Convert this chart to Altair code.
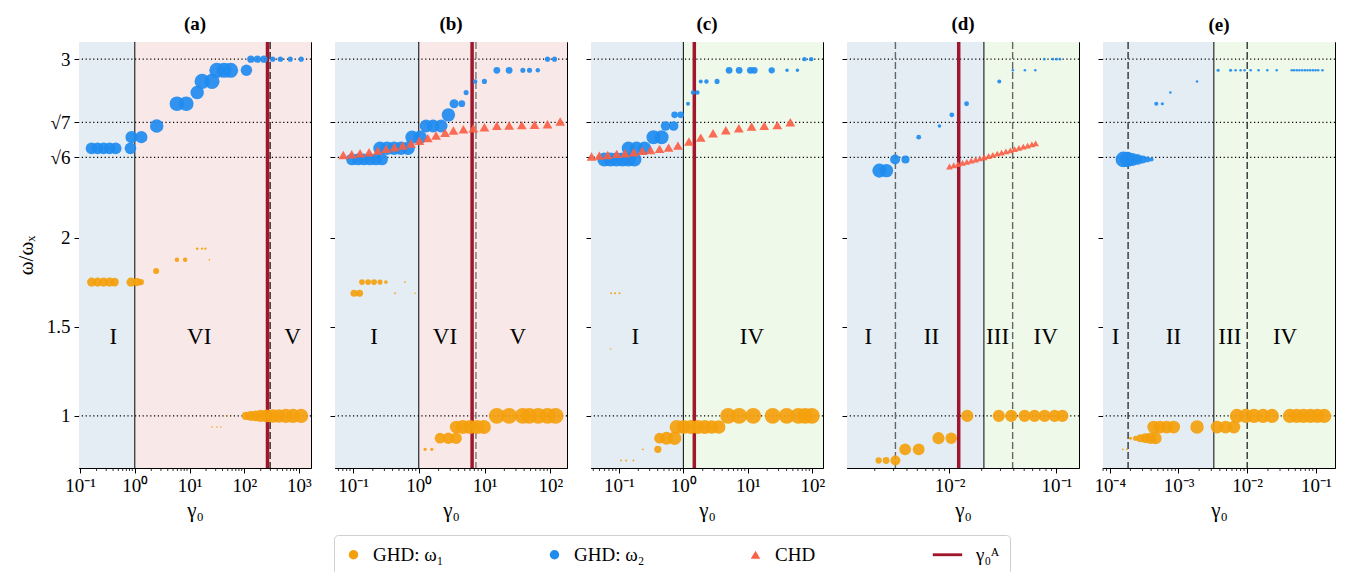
import math
import altair as alt
import pandas as pd

FONT = "Liberation Serif"
W, H = 232, 426
Y_DOMAIN = [0.708, 3.096]
Y_TICKS = [1.0, 1.5, 2.0, math.sqrt(6), math.sqrt(7), 3.0]
Y_TICK_LABELS = ["1", "1.5", "2", "√6", "√7", "3"]
H_LINES = [1.0, math.sqrt(6), math.sqrt(7), 3.0]
REGION_LABEL_Y = 1.44

SERIES = ["GHD: ω₁", "GHD: ω₂", "CHD", "γ₀ᴬ"]
COLORS = ["#f4a00c", "#1f8bef", "#fb6045", "#a0172d"]
SHAPES = ["circle", "circle", "triangle-up", "M-5,-0.3H1.2V0.3H-5Z"]
BLUE_BG, PINK_BG, GREEN_BG = "#e4edf4", "#f9e8e8", "#eff9e9"
SUPS = ["⁻⁵", "⁻⁴", "⁻³", "⁻²", "⁻¹", "⁰", "¹", "²", "³", "⁴"]

# ---------------- panel (a) ----------------
a_dom_log = [-1.02, 3.22]
a_w1_log = [-0.79, -0.68, -0.57, -0.46, -0.37, -0.07, 0.04, 0.11, 0.39, 0.77, 0.92, 1.14, 1.23, 1.29, 1.36,
            1.41, 1.50, 1.57, 1.69, 2.03, 2.12, 2.21, 2.30, 2.41, 2.52, 2.63, 2.76, 2.89, 3.04]
a_w1_val = [1.75, 1.75, 1.75, 1.75, 1.75, 1.75, 1.75, 1.75, 1.8125, 1.875, 1.875, 1.9375, 1.9375, 1.9375, 1.875,
            0.9375, 0.9375, 0.9375, 1.0, 1.0, 1.0, 1.0, 1.0, 1.0, 1.0, 1.0, 1.0, 1.0, 1.0]
a_w1_amp = [0.25, 0.25, 0.25, 0.25, 0.22, 0.25, 0.2, 0.12, 0.11, 0.06, 0.06, 0.02, 0.015, 0.015, 0.008,
            0.008, 0.008, 0.008, 0.008, 0.2, 0.3, 0.35, 0.45, 0.5, 0.55, 0.55, 0.6, 0.6, 0.6]
a_w2_log = [-0.79, -0.68, -0.57, -0.46, -0.35, -0.08, -0.06, 0.12, 0.40, 0.77, 0.94, 1.14, 1.23, 1.41, 1.50,
            1.63, 1.75, 2.04, 2.12, 2.24, 2.36, 2.52, 2.66, 2.84, 3.04]
a_w2_val = [2.5, 2.5, 2.5, 2.5, 2.5, 2.5, 2.5625, 2.5625, 2.625, 2.75, 2.75, 2.8125, 2.875, 2.875, 2.9375,
            2.9375, 2.9375, 2.9375, 3.0, 3.0, 3.0, 3.0, 3.0, 3.0, 3.0]
a_w2_amp = [0.42, 0.42, 0.42, 0.42, 0.42, 0.41, 0.45, 0.45, 0.55, 0.65, 0.65, 0.55, 0.7, 0.7, 0.7,
            0.7, 0.7, 0.4, 0.16, 0.16, 0.16, 0.09, 0.09, 0.08, 0.08]
a_chd_log, a_chd_val = [], []
a_edges, a_bgs = [1.0], [BLUE_BG, PINK_BG]
a_solid, a_dashed, a_red = [1.0], [297.0], [266.0]
a_labels, a_label_pos = ["I", "VI", "V"], [0.405, 15.0, 760.0]

# ---------------- panel (b) ----------------
b_dom_log = [-1.274, 2.254]
b_w1_log = [-0.985, -0.90, -0.863, -0.77, -0.68, -0.59, -0.50, -0.36, -0.209, -0.056, 0.096, 0.198, 0.324, 0.45,
            0.568, 0.57, 0.67, 0.78, 0.89, 0.99, 1.187, 1.374, 1.58, 1.68, 1.817, 1.957, 2.08]
b_w1_val = [1.6875, 1.6875, 1.75, 1.75, 1.75, 1.75, 1.75, 1.6875, 1.75, 1.6875, 0.8125, 0.8125, 0.875, 0.875,
            0.875, 0.9375, 0.9375, 0.9375, 0.9375, 0.9375, 1.0, 1.0, 1.0, 1.0, 1.0, 1.0, 1.0]
b_w1_amp = [0.15, 0.15, 0.1, 0.1, 0.1, 0.08, 0.04, 0.01, 0.01, 0.008, 0.03, 0.03, 0.35, 0.4,
            0.4, 0.5, 0.6, 0.6, 0.6, 0.6, 0.75, 0.75, 0.75, 0.75, 0.75, 0.75, 0.75]
b_w2_log = [-1.015, -0.924, -0.833, -0.741, -0.650, -0.559, -0.589, -0.483, -0.376, -0.270, -0.163, -0.102, 0.02,
            0.111, 0.218, 0.339, 0.45, 0.537, 0.654, 0.72, 0.857, 0.998, 1.187, 1.374, 1.583, 1.684, 1.81, 1.957, 2.064]
b_w2_val = [2.4375, 2.4375, 2.4375, 2.4375, 2.4375, 2.4375, 2.5, 2.5, 2.5, 2.5, 2.5, 2.5625, 2.5625,
            2.625, 2.625, 2.625, 2.6875, 2.75, 2.75, 2.8125, 2.875, 2.875, 2.9375, 2.9375, 2.9375, 2.9375, 2.9375, 3.0, 3.0]
b_w2_amp = [0.42, 0.42, 0.42, 0.42, 0.42, 0.42, 0.55, 0.55, 0.55, 0.55, 0.55, 0.55, 0.55,
            0.5, 0.5, 0.5, 0.55, 0.25, 0.14, 0.08, 0.06, 0.08, 0.14, 0.14, 0.08, 0.08, 0.06, 0.08, 0.08]
b_chd_log = [-1.148, -1.02, -0.893, -0.756, -0.624, -0.498, -0.371, -0.244, -0.117, 0.009, 0.137, 0.263, 0.40,
             0.527, 0.679, 0.831, 0.998, 1.187, 1.374, 1.567, 1.76, 1.957, 2.15]
b_chd_val = [2.463, 2.467, 2.472, 2.478, 2.487, 2.497, 2.506, 2.515, 2.527, 2.542, 2.557, 2.572, 2.587,
             2.600, 2.607, 2.613, 2.618, 2.626, 2.628, 2.630, 2.632, 2.635, 2.650]
b_edges, b_bgs = [1.0], [BLUE_BG, PINK_BG]
b_solid, b_dashed, b_red = [1.0], [7.4], [6.47]
b_labels, b_label_pos = ["I", "VI", "V"], [0.209, 2.5, 32.0]

# ---------------- panel (c) ----------------
c_dom_log = [-1.433, 2.167]
c_w1_log = [-1.12, -1.06, -0.99, -1.129, -0.966, -0.888, -0.774, -0.629, -0.396, -0.369, -0.26, -0.136, -0.104,
            0.005, 0.114, 0.223, 0.332, 0.441, 0.550, 0.695, 0.866, 1.084, 1.386, 1.604, 1.785, 1.889, 1.994]
c_w1_val = [1.6875, 1.6875, 1.6875, 1.375, 0.75, 0.75, 0.75, 0.8125, 0.8125, 0.875, 0.875, 0.875, 0.9375,
            0.9375, 0.9375, 0.9375, 0.9375, 0.9375, 0.9375, 1.0, 1.0, 1.0, 1.0, 1.0, 1.0, 1.0, 1.0]
c_w1_amp = [0.012, 0.012, 0.012, 0.008, 0.01, 0.01, 0.01, 0.01, 0.16, 0.35, 0.5, 0.55, 0.6,
            0.6, 0.6, 0.6, 0.6, 0.55, 0.55, 0.75, 0.75, 0.75, 0.75, 0.75, 0.75, 0.75, 0.75]
c_w2_log = [-1.226, -1.132, -1.039, -0.945, -0.852, -0.759, -0.852, -0.727, -0.603, -0.463, -0.338, -0.276, -0.151,
            -0.136, -0.042, 0.072, 0.15, 0.218, 0.27, 0.358, 0.523, 0.71, 0.866, 1.04, 1.10, 1.371, 1.609, 1.77,
            1.879, 1.983]
c_w2_val = [2.4375, 2.4375, 2.4375, 2.4375, 2.4375, 2.4375, 2.5, 2.5, 2.5, 2.5625, 2.5625, 2.625, 2.625,
            2.6875, 2.6875, 2.75, 2.8125, 2.8125, 2.875, 2.875, 2.875, 2.9375, 2.9375, 2.9375, 2.9375, 2.9375,
            2.9375, 2.9375, 3.0, 3.0]
c_w2_amp = [0.6, 0.6, 0.6, 0.6, 0.6, 0.6, 0.55, 0.55, 0.55, 0.6, 0.6, 0.28, 0.28,
            0.13, 0.13, 0.05, 0.06, 0.06, 0.05, 0.06, 0.08, 0.14, 0.14, 0.14, 0.14, 0.12,
            0.04, 0.04, 0.06, 0.06]
c_chd_log = [-1.424, -1.304, -1.174, -1.034, -0.903, -0.769, -0.639, -0.509, -0.369, -0.229, -0.084, 0.087,
             0.27, 0.461, 0.659, 0.861, 1.059, 1.255, 1.458, 1.66]
c_chd_val = [2.454, 2.459, 2.463, 2.469, 2.472, 2.478, 2.486, 2.491, 2.497, 2.504, 2.515, 2.538,
             2.560, 2.585, 2.601, 2.613, 2.622, 2.626, 2.630, 2.646]
c_edges, c_bgs = [1.0], [BLUE_BG, GREEN_BG]
c_solid, c_dashed, c_red = [1.0], [], [1.48]
c_labels, c_label_pos = ["I", "IV"], [0.18, 11.6]

# ---------------- panel (d) ----------------
d_dom_log = [-2.959, -0.788]
d_w1_log = [-2.663, -2.593, -2.506, -2.415, -2.288, -2.103, -1.984, -1.834, -1.538, -1.422, -1.297, -1.204,
            -1.11, -1.016, -0.944]
d_w1_val = [0.75, 0.75, 0.75, 0.8125, 0.8125, 0.875, 0.875, 1.0, 1.0, 1.0, 1.0, 1.0, 1.0, 1.0, 1.0]
d_w1_amp = [0.12, 0.14, 0.3, 0.42, 0.42, 0.45, 0.4, 0.45, 0.45, 0.45, 0.45, 0.45, 0.45, 0.45, 0.45]
d_w2_log = [-2.656, -2.59, -2.509, -2.412, -2.288, -2.094, -1.978, -1.84, -1.534, -1.407, -1.294, -1.197,
            -1.112, -1.032, -0.997, -0.966]
d_w2_val = [2.375, 2.375, 2.4375, 2.4375, 2.5625, 2.625, 2.6875, 2.75, 2.875, 2.9375, 2.9375, 2.9375,
            3.0, 3.0, 3.0, 3.0]
d_w2_amp = [0.6, 0.55, 0.3, 0.2, 0.07, 0.04, 0.07, 0.07, 0.05, 0.02, 0.02, 0.02, 0.02, 0.02, 0.02, 0.02]
d_chd_log = [-2.0, -1.96, -1.919, -1.878, -1.838, -1.797, -1.756, -1.716, -1.675, -1.634, -1.594, -1.553,
             -1.513, -1.472, -1.431, -1.391, -1.35, -1.309, -1.269, -1.229, -1.194]
d_chd_val = [2.398, 2.405, 2.411, 2.418, 2.424, 2.431, 2.437, 2.444, 2.450, 2.457, 2.463, 2.470,
             2.476, 2.483, 2.489, 2.496, 2.502, 2.509, 2.515, 2.522, 2.528]
d_edges, d_bgs = [0.021], [BLUE_BG, GREEN_BG]
d_solid, d_dashed, d_red = [0.021], [0.00312, 0.039], [0.0122]
d_labels, d_label_pos = ["I", "II", "III", "IV"], [0.00174, 0.00678, 0.0282, 0.0794]

# ---------------- panel (e) ----------------
e_dom_log = [-4.098, -0.723]
e_w1_log = [-3.81, -3.75, -3.698, -3.625, -3.552, -3.479, -3.406, -3.333, -3.36, -3.27, -3.17, -3.07, -2.73,
            -2.438, -2.315, -2.194, -2.15, -2.02, -1.90, -1.77, -1.64, -1.38, -1.28, -1.18, -1.08, -0.98, -0.88]
e_w1_val = [0.8125, 0.8125, 0.875, 0.875, 0.875, 0.875, 0.875, 0.875, 0.9375, 0.9375, 0.9375, 0.9375, 0.9375,
            0.9375, 0.9375, 0.9375, 1.0, 1.0, 1.0, 1.0, 1.0, 1.0, 1.0, 1.0, 1.0, 1.0, 1.0]
e_w1_amp = [0.01, 0.01, 0.03, 0.08, 0.2, 0.3, 0.4, 0.45, 0.5, 0.5, 0.5, 0.5, 0.55,
            0.5, 0.5, 0.5, 0.6, 0.6, 0.6, 0.6, 0.6, 0.6, 0.6, 0.6, 0.6, 0.6, 0.6]
e_w2_log = [-3.800, -3.742, -3.669, -3.596, -3.523, -3.450, -3.391, -3.323, -3.235, -3.118, -2.73,
            -2.423, -2.242, -2.169, -2.096, -2.038, -1.950, -1.834, -1.708, -1.571, -1.352, -1.318, -1.279,
            -1.241, -1.201, -1.162, -1.124, -1.085, -1.045, -1.007, -0.968, -0.905]
e_w2_val = [2.4375, 2.4375, 2.4375, 2.4375, 2.4375, 2.4375, 2.4375, 2.75, 2.75, 2.8125, 2.875,
            2.9375, 2.9375, 2.9375, 2.9375, 2.9375, 2.9375, 2.9375, 2.9375, 2.9375, 2.9375, 2.9375, 2.9375,
            2.9375, 2.9375, 2.9375, 2.9375, 2.9375, 2.9375, 2.9375, 2.9375, 2.9375]
e_w2_amp = [0.75, 0.7, 0.5, 0.35, 0.2, 0.1, 0.05, 0.05, 0.03, 0.02, 0.02,
            0.03, 0.03, 0.02, 0.02, 0.02, 0.02, 0.02, 0.02, 0.02, 0.02, 0.02, 0.02,
            0.02, 0.02, 0.02, 0.02, 0.02, 0.02, 0.02, 0.02, 0.02]
e_chd_log, e_chd_val = [], []
e_edges, e_bgs = [0.00327], [BLUE_BG, GREEN_BG]
e_solid, e_dashed, e_red = [0.00327], [1.85e-4, 0.01], []
e_labels, e_label_pos = ["I", "II", "III", "IV"], [1.22e-4, 8.45e-4, 0.00559, 0.0355]

# ---------------- helpers ----------------
X_LABEL_EXPR = "'10' + [" + ",".join("'%s'" % s for s in SUPS) + "][round(log(datum.value)/LN10)+5]"
Y_LABEL_EXPR = "''"
for _v, _l in reversed(list(zip(Y_TICKS, Y_TICK_LABELS))):
    Y_LABEL_EXPR = f"abs(datum.value - {_v}) < 0.001 ? '{_l}' : ({Y_LABEL_EXPR})"

LEGEND = alt.Legend(title=None, orient="none", legendX=255, legendY=493, direction="horizontal",
                    columns=4, gridAlign="all", columnPadding=86, symbolSize=90,
                    labelFont=FONT, labelFontSize=19, labelOffset=10, padding=10,
                    strokeColor="#cfcfcf", fillColor="white", cornerRadius=4,
                    symbolOpacity=1, symbolStrokeWidth=0, labelColor="black")


def make_panel(letter, dom_log, w1, w2, chd, chd_size, edges, bgs, solid, dashed, dashed_color,
               red, labels, label_pos, show_y):
    lo, hi = 10 ** dom_log[0], 10 ** dom_log[1]
    xscale = alt.Scale(type="log", domain=[lo, hi], nice=False)
    yscale = alt.Scale(domain=Y_DOMAIN, nice=False, zero=False)
    majors = [10.0 ** k for k in range(-6, 6) if lo <= 10.0 ** k <= hi]
    minors = [m * 10.0 ** k for k in range(-6, 6) for m in range(2, 10) if lo <= m * 10.0 ** k <= hi]
    xaxis = alt.Axis(values=majors, labelExpr=X_LABEL_EXPR, title="γ₀", grid=False, tickSize=5,
                     labelFontSize=19, titleFontSize=21, titleFontWeight="normal", labelPadding=3,
                     titlePadding=4, labelFlush=False, labelOverlap=False)
    if show_y:
        yaxis = alt.Axis(values=Y_TICKS, labelExpr=Y_LABEL_EXPR, title="ω/ωₓ", grid=False, tickSize=5,
                         labelFontSize=19, titleFontSize=21, titleFontWeight="normal", labelPadding=4,
                         titlePadding=10, labelOverlap=False)
    else:
        yaxis = alt.Axis(values=Y_TICKS, labels=False, title=None, grid=False, tickSize=5)
    X = alt.X("g:Q", scale=xscale, axis=xaxis)
    Y = alt.Y("v:Q", scale=yscale, axis=yaxis)
    color = alt.Color("series:N", scale=alt.Scale(domain=SERIES, range=COLORS), legend=LEGEND)
    shape = alt.Shape("series:N", scale=alt.Scale(domain=SERIES, range=SHAPES), legend=LEGEND)

    layers = []
    bg_df = pd.DataFrame({"g": [lo] + edges, "g2": edges + [hi], "c": bgs})
    layers.append(alt.Chart(bg_df).mark_rect().encode(
        x=X, x2="g2:Q", y=alt.value(0), y2=alt.value(H), fill=alt.Fill("c:N", scale=None)))
    layers.append(alt.Chart(pd.DataFrame({"v": H_LINES})).mark_rule(
        color="black", strokeDash=[1.2, 2.6], strokeWidth=1.2).encode(y=Y))
    layers.append(alt.Chart(pd.DataFrame({"g": minors})).mark_rule(
        color="black", strokeWidth=0.8).encode(x=X, y=alt.value(H), y2=alt.value(H + 3)))
    if solid:
        layers.append(alt.Chart(pd.DataFrame({"g": solid})).mark_rule(
            color="black", strokeWidth=1).encode(x=X))
    if dashed:
        layers.append(alt.Chart(pd.DataFrame({"g": dashed})).mark_rule(
            color=dashed_color, strokeDash=[7, 3], strokeWidth=1.4).encode(x=X))
    layers.append(alt.Chart(pd.DataFrame({"g": label_pos, "v": [REGION_LABEL_Y] * len(labels), "t": labels}))
                  .mark_text(font=FONT, fontSize=23, color="black").encode(x=X, y=Y, text="t:N"))
    if red:
        layers.append(alt.Chart(pd.DataFrame({"g": red})).mark_rule(
            color=COLORS[3], strokeWidth=3.5).encode(x=X))
    pts = pd.DataFrame({
        "g": [10 ** v for v in w1[0]] + [10 ** v for v in w2[0]],
        "v": w1[1] + w2[1],
        "w": w1[2] + w2[2],
        "series": [SERIES[0]] * len(w1[0]) + [SERIES[1]] * len(w2[0]),
    })
    layers.append(alt.Chart(pts).mark_point(filled=True, opacity=0.92, strokeWidth=0).encode(
        x=X, y=Y, color=color, shape=shape,
        size=alt.Size("w:Q", scale=alt.Scale(domain=[0, 1], range=[0, 330]), legend=None)))
    if chd[0]:
        tri = pd.DataFrame({"g": [10 ** v for v in chd[0]], "v": chd[1], "series": [SERIES[2]] * len(chd[0])})
        layers.append(alt.Chart(tri).mark_point(filled=True, opacity=0.92, size=chd_size, strokeWidth=0)
                      .encode(x=X, y=Y, color=color, shape=shape))
    return alt.layer(*layers).properties(
        width=W, height=H,
        title=alt.TitleParams(f"({letter})", font=FONT, fontSize=19, fontWeight="bold", offset=6))


panels = [
    make_panel("a", a_dom_log, (a_w1_log, a_w1_val, a_w1_amp), (a_w2_log, a_w2_val, a_w2_amp),
               (a_chd_log, a_chd_val), 70, a_edges, a_bgs, a_solid, a_dashed, "#222222", a_red,
               a_labels, a_label_pos, True),
    make_panel("b", b_dom_log, (b_w1_log, b_w1_val, b_w1_amp), (b_w2_log, b_w2_val, b_w2_amp),
               (b_chd_log, b_chd_val), 95, b_edges, b_bgs, b_solid, b_dashed, "#777777", b_red,
               b_labels, b_label_pos, False),
    make_panel("c", c_dom_log, (c_w1_log, c_w1_val, c_w1_amp), (c_w2_log, c_w2_val, c_w2_amp),
               (c_chd_log, c_chd_val), 95, c_edges, c_bgs, c_solid, c_dashed, "#777777", c_red,
               c_labels, c_label_pos, False),
    make_panel("d", d_dom_log, (d_w1_log, d_w1_val, d_w1_amp), (d_w2_log, d_w2_val, d_w2_amp),
               (d_chd_log, d_chd_val), 45, d_edges, d_bgs, d_solid, d_dashed, "#666666", d_red,
               d_labels, d_label_pos, False),
    make_panel("e", e_dom_log, (e_w1_log, e_w1_val, e_w1_amp), (e_w2_log, e_w2_val, e_w2_amp),
               (e_chd_log, e_chd_val), 45, e_edges, e_bgs, e_solid, e_dashed, "#333333", e_red,
               e_labels, e_label_pos, False),
]

chart = alt.hconcat(*panels, spacing=24, bounds="flush").properties(
    padding={"left": 6, "top": 6, "right": 5, "bottom": 5}
).configure_view(stroke="black", strokeWidth=1).configure_axis(
    domainColor="black", tickColor="black", labelColor="black", titleColor="black",
    labelFont=FONT, titleFont=FONT, zindex=1
).configure_title(font=FONT, color="black")

chart.save("out.html", embed_options={"renderer": "svg", "actions": False})
